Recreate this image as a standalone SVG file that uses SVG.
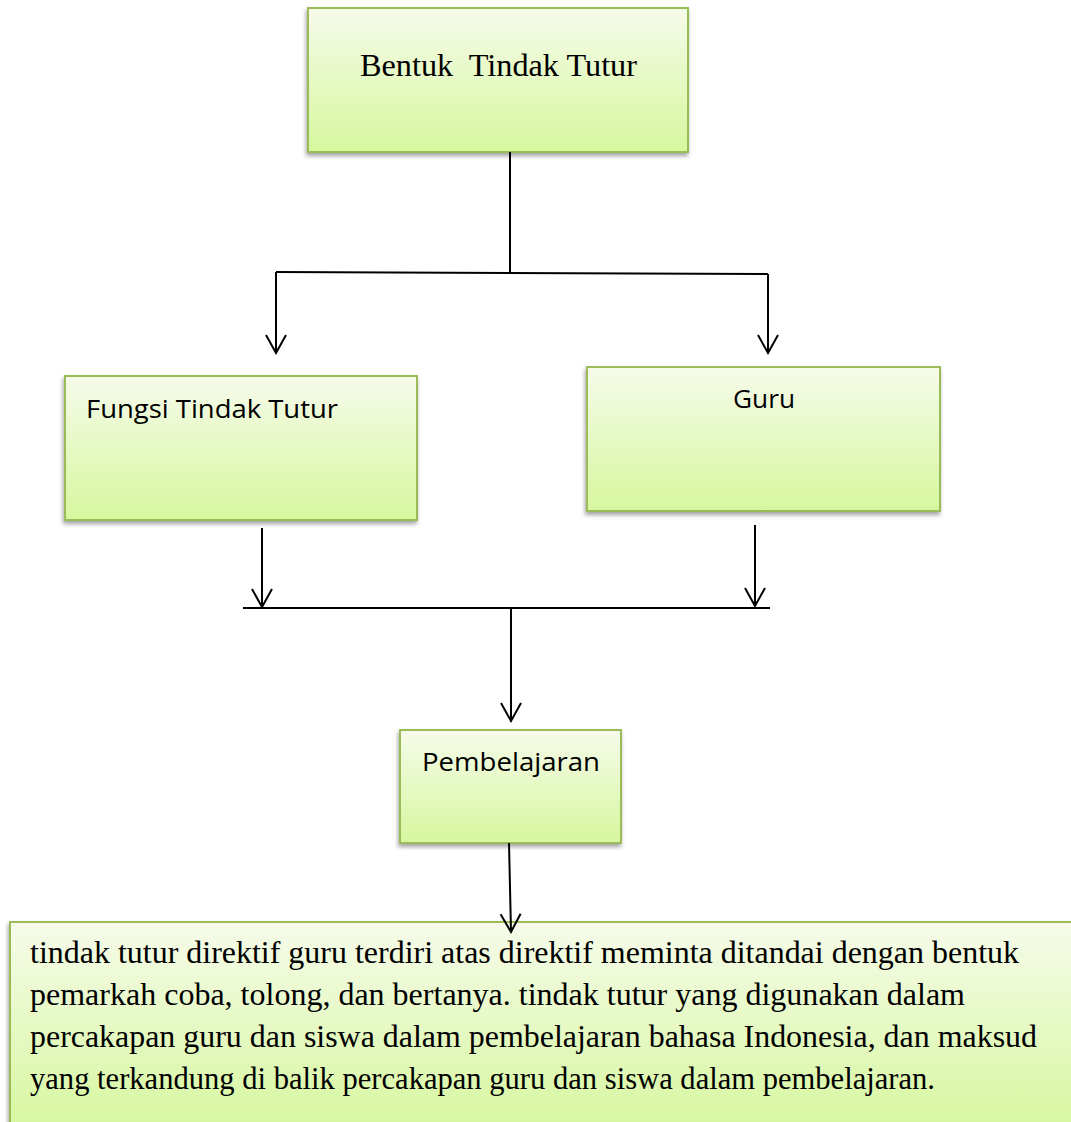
<svg xmlns="http://www.w3.org/2000/svg" width="1071" height="1122" viewBox="0 0 1071 1122">
<defs>
<linearGradient id="g" x1="0" y1="0" x2="0" y2="1">
<stop offset="0" stop-color="#f6fbea"/>
<stop offset="1" stop-color="#d6f79e"/>
</linearGradient>
<filter id="sh" x="-10%" y="-10%" width="120%" height="130%">
<feDropShadow dx="-1" dy="3" stdDeviation="2" flood-color="#555" flood-opacity="0.55"/>
</filter>
<marker id="ah" viewBox="0 0 22 24" refX="20" refY="12" markerWidth="22" markerHeight="24" markerUnits="userSpaceOnUse" orient="auto">
<path d="M2,2 L20,12 L2,22" fill="none" stroke="#000" stroke-width="2"/>
</marker>
<style>
.box{fill:url(#g);stroke:#9bbb59;stroke-width:2;filter:url(#sh)}
.ser{font-family:'Liberation Serif','Times New Roman',Times,serif;fill:#000}
.san{font-family:'Open Sans','Liberation Sans',sans-serif;fill:#000}
.ln{stroke:#000;stroke-width:2;fill:none}
</style>
</defs>
<g id="node-bentuk">
<rect class="box" x="308" y="8" width="380" height="144"/>
<text class="ser" x="360" y="76" font-size="31" xml:space="preserve" textLength="277" lengthAdjust="spacingAndGlyphs">Bentuk  Tindak Tutur</text>
</g>
<g id="node-fungsi">
<rect class="box" x="65" y="376" width="352" height="144"/>
<text class="san" x="86" y="418" font-size="25" textLength="252" lengthAdjust="spacingAndGlyphs">Fungsi Tindak Tutur</text>
</g>
<g id="node-guru">
<rect class="box" x="587" y="367" width="353" height="144"/>
<text class="san" x="733" y="408" font-size="25" textLength="62" lengthAdjust="spacingAndGlyphs">Guru</text>
</g>
<g id="node-pembelajaran">
<rect class="box" x="400" y="730" width="221" height="113"/>
<text class="san" x="422" y="771" font-size="25" textLength="178" lengthAdjust="spacingAndGlyphs">Pembelajaran</text>
</g>
<g id="node-kesimpulan">
<rect class="box" x="10" y="922" width="1070" height="210"/>
<text class="ser" font-size="32">
<tspan x="30" y="963" textLength="989" lengthAdjust="spacingAndGlyphs">tindak tutur direktif guru terdiri atas direktif meminta ditandai dengan bentuk</tspan>
<tspan x="30" y="1005" textLength="935" lengthAdjust="spacingAndGlyphs">pemarkah coba, tolong, dan bertanya. tindak tutur yang digunakan dalam</tspan>
<tspan x="30" y="1047" textLength="1007" lengthAdjust="spacingAndGlyphs">percakapan guru dan siswa dalam pembelajaran bahasa Indonesia, dan maksud</tspan>
<tspan x="30" y="1089" textLength="905" lengthAdjust="spacingAndGlyphs">yang terkandung di balik percakapan guru dan siswa dalam pembelajaran.</tspan>
</text>
</g>
<g id="connectors">
<line class="ln" x1="510" y1="152" x2="510" y2="273"/>
<line class="ln" x1="276" y1="272" x2="768" y2="274"/>
<line class="ln" x1="276" y1="272" x2="276" y2="353" marker-end="url(#ah)"/>
<line class="ln" x1="768" y1="274" x2="768" y2="353" marker-end="url(#ah)"/>
<line class="ln" x1="262" y1="528" x2="262" y2="607" marker-end="url(#ah)"/>
<line class="ln" x1="755" y1="525" x2="755" y2="606" marker-end="url(#ah)"/>
<line class="ln" x1="243" y1="608" x2="770" y2="608"/>
<line class="ln" x1="511" y1="608" x2="511" y2="721" marker-end="url(#ah)"/>
<line class="ln" x1="509" y1="843" x2="511" y2="932" marker-end="url(#ah)"/>
</g>
</svg>
